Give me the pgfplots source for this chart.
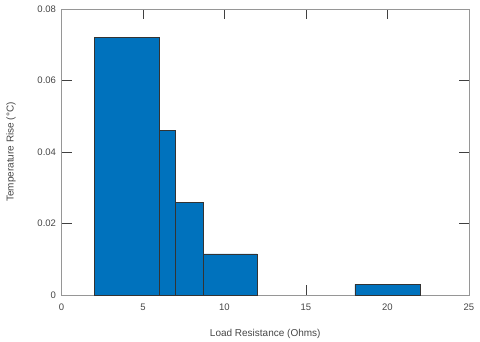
\documentclass[border=0pt]{standalone}
\usepackage{pgfplots}
\pgfplotsset{compat=1.18}
\usepackage{fontspec}
\setmainfont{Liberation Sans}
\definecolor{barblue}{RGB}{0,114,189}
\definecolor{axgray}{RGB}{150,150,150}
\definecolor{txtgray}{RGB}{70,70,70}
\begin{document}
\begin{tikzpicture}
  \begin{axis}[
      at={(0,0)}, anchor=south west,
      width=407.5pt, height=286pt,
      scale only axis,
      xmin=0, xmax=25, ymin=0, ymax=0.08,
      xtick={0,5,...,25},
      ytick={0,0.02,0.04,0.06,0.08},
      yticklabels={0,0.02,0.04,0.06,0.08},
      scaled y ticks=false,
      tick align=inside,
      major tick length=10pt,
      tick style={black!75, line width=0.8pt},
      axis line style={axgray, line width=0.8pt},
      ticklabel style={font=\fontsize{9.5}{11}\selectfont, text=txtgray},
      /pgf/number format/assume math mode=true,
      xticklabel style={yshift=-5pt},
      yticklabel style={xshift=-2pt},
      xlabel={Load Resistance (Ohms)},
      ylabel={Temperature Rise (°C)},
      label style={font=\fontsize{10}{12}\selectfont, text=txtgray},
      xlabel style={yshift=-12pt},
      ylabel style={yshift=15pt},
      bar/.style={fill=barblue, draw=black!80, line width=0.6pt},
    ]
    \addplot[bar] coordinates {(2,0) (2,0.072) (6,0.072) (6,0)} \closedcycle;
    \addplot[bar] coordinates {(6,0) (6,0.046) (7,0.046) (7,0)} \closedcycle;
    \addplot[bar] coordinates {(7,0) (7,0.026) (8.67,0.026) (8.67,0)} \closedcycle;
    \addplot[bar] coordinates {(8.67,0) (8.67,0.0115) (12,0.0115) (12,0)} \closedcycle;
    \addplot[bar] coordinates {(18,0) (18,0.003) (22,0.003) (22,0)} \closedcycle;
  \end{axis}
  \path[use as bounding box] (-61.5pt,-45pt) rectangle (418.5pt,295pt);
\end{tikzpicture}
\end{document}
